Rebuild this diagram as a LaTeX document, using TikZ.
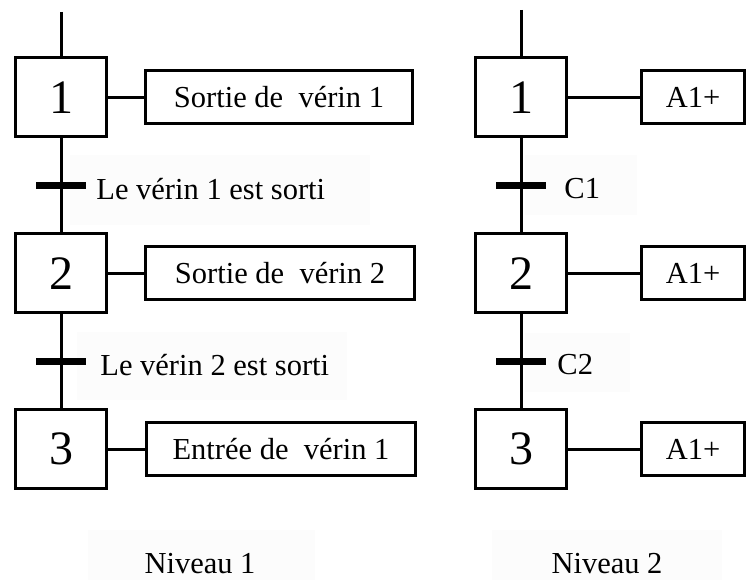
\documentclass[tikz,border=0pt]{standalone}
\usepackage{fontspec}
\setmainfont{Liberation Serif}
\usetikzlibrary{positioning}
\tikzset {
    etape/.style = {draw, line width=3pt, minimum width=91pt, minimum height=79pt, font=\fontsize{48}{54}\selectfont},
    action/.style = {draw, line width=3pt, minimum height=53pt, font=\fontsize{30.5}{36}\selectfont},
    recep/.style = {fill=black, minimum width=50pt, minimum height=7.5pt},
    etiq/.style = {font=\fontsize{30.5}{36}\selectfont},
    lien/.style = {line width=3pt},
    fond/.style = {fill=black!1.2}
}

\begin{document}
\begin{tikzpicture}[x=1pt, y=1pt, every node/.style={inner sep=0pt}]
	\useasboundingbox (0,0) rectangle (749,580);
	% light backgrounds behind the texts
	\fill[fond] (70,355) rectangle (370,425);
	\fill[fond] (77,180) rectangle (347,248);
	\fill[fond] (525,365) rectangle (637,425);
	\fill[fond] (525,188) rectangle (630,247);
	\fill[fond] (88,0) rectangle (315,50);
	\fill[fond] (492,0) rectangle (722,50);

	% Niveau 1
	\begin{scope}
	\node (a1) [etape] at (61,482.5) {1};
	\node (ta1) [recep, below=43pt of a1] {};
	\node (a2) [etape, below=43pt of ta1] {2};
	\node (ta2) [recep, below=43pt of a2] {};
	\node (a3) [etape, below=43pt of ta2] {3};
	\coordinate (ea) at (61,568);
	\draw[lien] (ea) -- (a1) (a1) -- (a2) (a2) -- (a3);

	\node (sa1) [action, minimum width=267pt, right=36pt of a1] {Sortie de\ \ vérin 1};
	\node (sa2) [action, minimum width=269pt, right=36pt of a2] {Sortie de\ \ vérin 2};
	\node (sa3) [action, minimum width=269pt, right=37pt of a3] {Entrée de\ \ vérin 1};
	\draw[lien] (a1) -- (sa1) (a2) -- (sa2) (a3) -- (sa3);

	\node (la1) [etiq, right=10pt of ta1, yshift=-4pt] {Le vérin 1 est sorti};
	\node (la2) [etiq, right=14pt of ta2, yshift=-4pt] {Le vérin 2 est sorti};
	\node (na) [etiq] at (200,16) {Niveau 1};
	\end{scope}

	% Niveau 2
	\begin{scope}
	\node (b1) [etape] at (521,482.5) {1};
	\node (tb1) [recep, below=43pt of b1] {};
	\node (b2) [etape, below=43pt of tb1] {2};
	\node (tb2) [recep, below=43pt of b2] {};
	\node (b3) [etape, below=43pt of tb2] {3};
	\coordinate (eb) at (521,570);
	\draw[lien] (eb) -- (b1) (b1) -- (b2) (b2) -- (b3);

	\node (sb1) [action, minimum width=103pt, right=72pt of b1] {A1+};
	\node (sb2) [action, minimum width=103pt, right=72pt of b2] {A1+};
	\node (sb3) [action, minimum width=103pt, right=72pt of b3] {A1+};
	\draw[lien] (b1) -- (sb1) (b2) -- (sb2) (b3) -- (sb3);

	\node (lb1) [etiq, right=18pt of tb1, yshift=-3pt] {C1};
	\node (lb2) [etiq, right=11pt of tb2, yshift=-3pt] {C2};
	\node (nb) [etiq] at (607,16) {Niveau 2};
	\end{scope}
\end{tikzpicture}
\end{document}
